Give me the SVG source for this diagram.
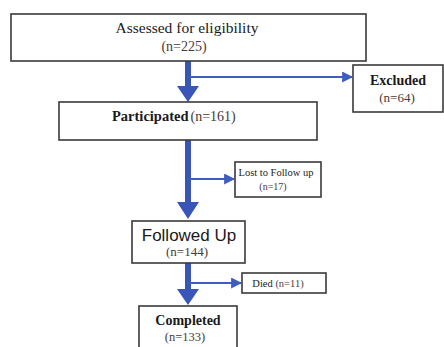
<svg xmlns="http://www.w3.org/2000/svg" width="444" height="347" viewBox="0 0 444 347">
<defs>
<style>
.box{fill:#fff;stroke:#3a3a3a;stroke-width:1.6}
.t{font-family:"Liberation Serif","Times New Roman",serif;fill:#1a1a1a}
.b{font-weight:bold}
.n{fill:#4a3a3a}
.s{font-family:"Liberation Sans",Arial,sans-serif;fill:#1a1a1a}
.thick{stroke:#3a55b8;stroke-width:6;fill:none}
.thin{stroke:#3f5cbf;stroke-width:2;fill:none}
.head{fill:#3a55b8}
</style>
<marker id="ah" viewBox="0 0 10 10" refX="9" refY="5" markerWidth="5.5" markerHeight="5.5" orient="auto" markerUnits="strokeWidth">
<path d="M0,0 L10,5 L0,10 Z" fill="#3f5cbf"/>
</marker>
</defs>
<g id="connectors">
<line class="thick" x1="188" y1="61" x2="188" y2="88"/>
<path class="head" d="M177,86 L199,86 L188,102 Z"/>
<line class="thin" x1="188" y1="77" x2="352" y2="77" marker-end="url(#ah)"/>
<line class="thick" x1="188" y1="140" x2="188" y2="204"/>
<path class="head" d="M177,202 L199,202 L188,219 Z"/>
<line class="thin" x1="188" y1="179" x2="234" y2="179" marker-end="url(#ah)"/>
<line class="thick" x1="188" y1="263" x2="188" y2="291"/>
<path class="head" d="M177,289 L199,289 L188,305 Z"/>
<line class="thin" x1="188" y1="283" x2="241" y2="283" marker-end="url(#ah)"/>
</g>
<g id="assessed">
<rect class="box" x="11" y="14" width="355" height="47"/>
<text class="t" x="187" y="33" font-size="15.5" text-anchor="middle">Assessed for eligibility</text>
<text class="t n" x="184" y="51" font-size="14" text-anchor="middle">(n=225)</text>
</g>
<g id="excluded">
<rect class="box" x="353" y="65" width="90" height="47"/>
<text class="t b" x="398" y="85" font-size="14" text-anchor="middle">Excluded</text>
<text class="t n" x="397" y="102" font-size="13" text-anchor="middle">(n=64)</text>
</g>
<g id="participated">
<rect class="box" x="59" y="102" width="258" height="38"/>
<text class="t" x="112" y="121" font-size="14.5"><tspan class="b">Participated</tspan><tspan class="n" font-size="14" dx="2">(n=161)</tspan></text>
</g>
<g id="lost">
<rect class="box" x="235" y="162" width="86" height="35"/>
<text class="t" x="276" y="176" font-size="10.5" text-anchor="middle">Lost to Follow up</text>
<text class="t n" x="273" y="190" font-size="10" text-anchor="middle">(n=17)</text>
</g>
<g id="followed">
<rect class="box" x="132" y="221" width="113" height="42"/>
<text class="s" x="189" y="241" font-size="17" text-anchor="middle">Followed Up</text>
<text class="t n" x="187" y="256" font-size="13" text-anchor="middle">(n=144)</text>
</g>
<g id="died">
<rect class="box" x="242" y="273" width="84" height="20"/>
<text class="t" x="278" y="287" font-size="10.5" text-anchor="middle">Died <tspan class="n">(n=11)</tspan></text>
</g>
<g id="completed">
<rect class="box" x="139" y="306" width="98" height="46"/>
<text class="t b" x="188" y="325" font-size="14" text-anchor="middle">Completed</text>
<text class="t n" x="185" y="341" font-size="12.5" text-anchor="middle">(n=133)</text>
</g>
</svg>
